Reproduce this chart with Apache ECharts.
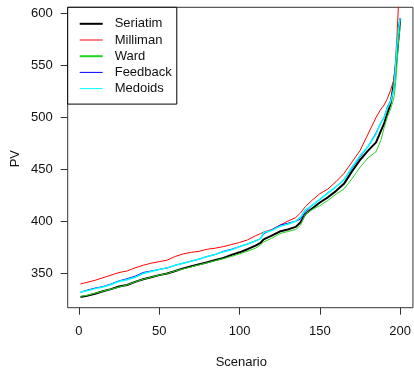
<!DOCTYPE html>
<html>
<head>
<meta charset="utf-8">
<script src="https://cdn.jsdelivr.net/npm/echarts@6/dist/echarts.min.js"></script>
<style>
  html, body { margin: 0; padding: 0; background: #fff; }
  #main { width: 414px; height: 369px; }
</style>
</head>
<body>
<div id="main"></div>
<script>
// scenario numbers where values were read
const scenario = [1, 5, 10, 15, 20, 25, 30, 35, 40, 45, 50, 55, 60, 65, 70, 75, 80, 85, 90, 95,
  100, 105, 110, 113, 115, 120, 125, 130, 135, 138, 141, 145, 150, 155, 160, 165, 170, 175, 180, 185,
  188, 190, 192, 194, 196, 197, 198, 199, 200]

const seriatim = [327, 328, 330, 332.5, 334.5, 337, 338.5, 341.5, 344, 346, 348, 349.5, 352, 354.5, 356.5, 358.5, 360.5, 362.5, 364.5, 367.5,
  370, 373, 376.5, 379, 382.5, 386, 390, 392, 394.5, 399, 407, 412, 418, 423, 429, 436, 448, 459, 468, 476,
  487, 494, 504, 513, 532, 545, 560, 577, 595]
const milliman = [339.5, 341, 343, 345.5, 348, 350.5, 352, 355, 357.5, 359.5, 361, 362.5, 366, 368.5, 370, 371, 373, 374, 375.5, 377.5,
  379.5, 382, 386, 388, 389.5, 392, 396, 400, 403.5, 408, 414, 420, 426.5, 431, 438, 446, 457, 468, 484, 500,
  508, 512, 518, 526, 536, 552, 578, 610, 650]
const ward = [327.5, 328.5, 330.5, 332.5, 334.5, 336.5, 338.5, 341.5, 344, 346, 348, 349.5, 352, 354, 356, 358, 360, 362, 364, 366,
  368.5, 371, 374, 377, 380, 383.5, 388, 390, 392, 396, 407, 411, 415, 420, 426, 431, 441, 452, 461, 467,
  478, 490, 500, 508, 518, 530, 550, 575, 587]
const feedback = [331.5, 333.5, 335.5, 337, 339.5, 342.5, 344.5, 347, 350.5, 352, 353.5, 355, 357.5, 359.5, 361.5, 363.5, 366, 368, 371, 373,
  375.5, 378, 381, 383, 388, 391.5, 396, 398, 400, 402, 409, 415, 421, 427.5, 433, 440, 451, 462, 472, 485,
  495, 500, 510, 516, 527, 545, 570, 586, 596]
const medoids = [331.5, 333, 335, 336.5, 339, 342, 343.5, 346, 349.5, 351.5, 353.5, 355, 357.5, 359.5, 361.5, 363.5, 366, 368, 370.5, 372.5,
  375.5, 378, 381, 383, 389, 391, 395, 397, 400, 404, 411, 415, 421, 427, 433, 440, 452, 463, 472, 484,
  495, 500, 509, 515, 527, 545, 570, 585, 595.5]

const xTicks = [0, 50, 100, 150, 200]
const yTicks = [350, 400, 450, 500, 550, 600]

const names = ['Seriatim', 'Milliman', 'Ward', 'Feedback', 'Medoids']
const colors = ['#000000', '#ff0000', '#22d422', '#0000ff', '#00ffff']
const widths = [2, 1, 1, 1, 1.5]
const legendWidths = [2, 1, 2, 1, 1]
const values = [seriatim, milliman, ward, feedback, medoids]

const font = 'Liberation Sans, Arial, sans-serif'
const chart = echarts.init(document.getElementById('main'))

const series = names.map((name, i) => ({
  name: name,
  type: 'line',
  symbol: 'none',
  clip: true,
  data: scenario.map((s, j) => [s, values[i][j]]),
  lineStyle: { color: colors[i], width: widths[i] },
  itemStyle: { color: colors[i] }
}))

chart.setOption({
  animation: false,
  grid: {
    left: 67.7, top: 7.3, width: 347.2, height: 300.4,
    show: true, borderColor: '#333', borderWidth: 1, backgroundColor: 'transparent'
  },
  xAxis: {
    type: 'value', min: -6.96, max: 207.96,
    axisLine: { show: false, onZero: false },
    splitLine: { show: false },
    axisTick: { show: true, inside: false, length: 7, customValues: xTicks, lineStyle: { color: '#333' } },
    axisLabel: { customValues: xTicks, margin: 17, color: '#111', fontSize: 13, fontFamily: font }
  },
  yAxis: {
    type: 'value', min: 316.6, max: 606.2,
    axisLine: { show: false, onZero: false },
    splitLine: { show: false },
    axisTick: { show: true, inside: false, length: 7, customValues: yTicks, lineStyle: { color: '#333' } },
    axisLabel: { customValues: yTicks, margin: 15, color: '#111', fontSize: 13, fontFamily: font }
  },
  legend: {
    orient: 'vertical',
    left: 67.7, top: 7.3,
    padding: [10, 5, 9, 11],
    itemWidth: 23, itemHeight: 12, itemGap: 3.2,
    itemStyle: { opacity: 0 },
    borderColor: '#000', borderWidth: 1, backgroundColor: '#fff',
    textStyle: { color: '#111', fontSize: 13, fontFamily: font, padding: [0, 0, 0, 7] },
    data: names.map((name, i) => ({ name: name, lineStyle: { width: legendWidths[i] } }))
  },
  graphic: [
    { type: 'text', left: 9, top: 150, rotation: Math.PI / 2,
      style: { text: 'PV', fontSize: 13, fontFamily: font, fill: '#111' } },
    { type: 'text', x: 241.3, y: 362,
      style: { text: 'Scenario', fontSize: 13, fontFamily: font, fill: '#111', align: 'center', verticalAlign: 'middle' } }
  ],
  series: series
})
</script>
</body>
</html>
